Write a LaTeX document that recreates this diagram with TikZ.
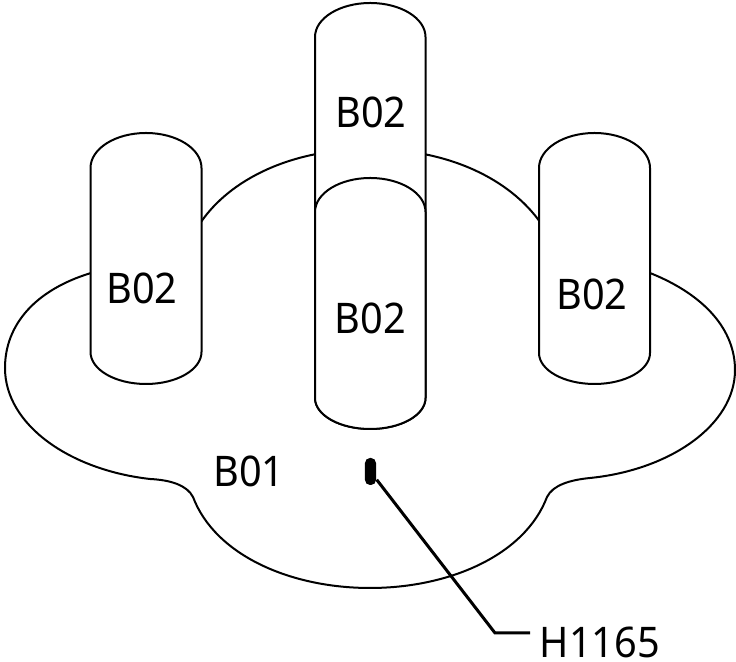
\documentclass[tikz,border=0pt]{standalone}
\usepackage{fontspec}
\setmainfont[FakeStretch=0.94]{Noto Sans}
\def\pillar(#1:#2:#3:#4:#5:#6){\draw[outline,fill=white] (#1,#4) arc (180:360:{(#2-#1)/2} and {#4-#3}) -- (#2,#5) arc (0:180:{(#2-#1)/2} and {#6-#5}) -- cycle;}
\tikzset{
	outline/.style={line width=0.2mm},
	leader/.style={line width=0.3mm},
	tag/.style={font=\fontsize{12}{12}\selectfont,inner sep=0pt}
}

\begin{document}
\begin{tikzpicture}[x=0.01cm,y=-0.01cm]
	%%%%% START %%%%%
	\useasboundingbox (0, 0) rectangle (736, 662);
	
	\draw[outline] (370, 149) .. controls (450, 149) and (510, 180) .. (540, 222)
		-- (650, 273) .. controls (705, 295) and (735, 330) .. (735, 370)
		.. controls (735, 425) and (670, 470) .. (590, 478)
		.. controls (570, 480) and (553, 485) .. (547, 497)
		.. controls (525, 555) and (450, 588) .. (370, 588)
		.. controls (290, 588) and (215, 555) .. (193, 497)
		.. controls (187, 485) and (170, 480) .. (150, 479)
		.. controls (70, 470) and (5, 425) .. (5, 368)
		.. controls (5, 325) and (35, 290) .. (91, 273)
		-- (201, 222) .. controls (230, 180) and (290, 149) .. (370, 149) -- cycle;
	
	\pillar(90.5:201.5:133:168:352:384);
	\pillar(315:425.5:3:37:398:429);
	\pillar(539:650:133:168:353:384);
	\pillar(315:425.5:178:212:398:429);
	
	\node[tag] (lefttag) at (142, 288) {B02};
	\node[tag] (backtag) at (371, 112) {B02};
	\node[tag] (fronttag) at (370.5, 318) {B02};
	\node[tag] (righttag) at (592, 294) {B02};
	\node[tag] (basetag) at (249, 471.5) {B01};
	\node[tag,anchor=west] (holetag) at (539, 642) {H1165};
	
	\node[fill=black,rounded corners=0.05cm,minimum width=0.11cm,minimum height=0.27cm,inner sep=0pt] (hole) at (370.5, 471.5) {};
	\coordinate (knee) at (495, 633);
	\coordinate (holeend) at (530, 633);
	\draw[leader] (hole.south east) ++(0, -6) -- (knee) -- (holeend);
	%%%%% END %%%%%
\end{tikzpicture}
\end{document}
